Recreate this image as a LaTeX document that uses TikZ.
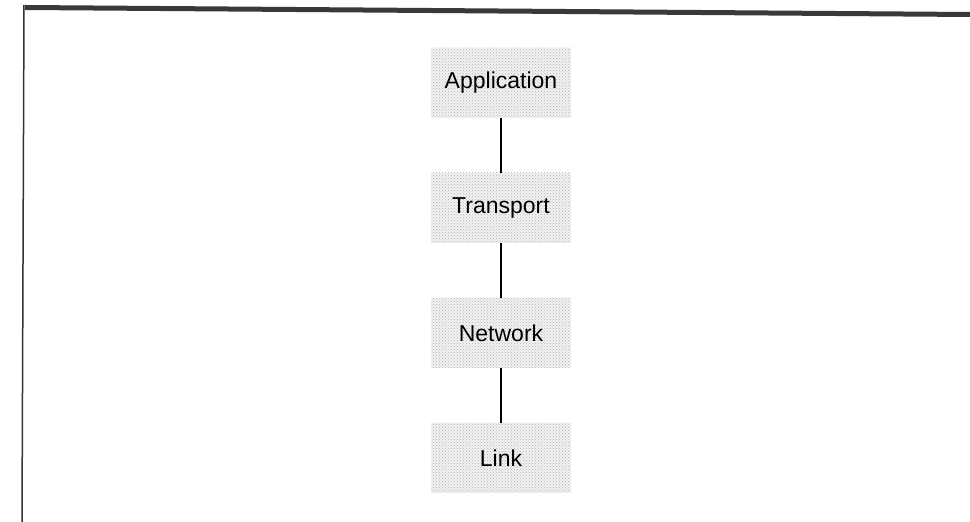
\documentclass[tikz,border=0pt]{standalone}
\usepackage{fontspec}
\setmainfont{Liberation Sans}
\usetikzlibrary{positioning, patterns}

\begin{document}
\begin{tikzpicture}[node distance=125pt, on grid, auto]
    \tikzstyle{layer}=[minimum width=140pt, minimum height=70pt, inner sep=0pt,
        preaction={fill=gray!10}, pattern=crosshatch dots, pattern color=gray!60,
        font=\fontsize{23}{27}\selectfont]
    \tikzstyle{link line}=[line width=2.5pt, black]

    \useasboundingbox (0,0) rectangle (970pt,522pt);

    % page frame
    \draw[gray!45!black, line width=5pt] (25pt,514.5pt) -- (970pt,507.5pt);
    \draw[gray!40!black, line width=1.5pt] (24pt,517pt) -- (22pt,0pt);

    \node[layer] (app) at (501pt,439pt) {Application};
    \node[layer] [below of = app] (trans) {Transport};
    \node[layer] [below of = trans] (net) {Network};
    \node[layer] [below of = net] (link) {Link};

    \path[link line]
    (app) edge[] (trans)
    (trans) edge[] (net)
    (net) edge[] (link);
\end{tikzpicture}
\end{document}
